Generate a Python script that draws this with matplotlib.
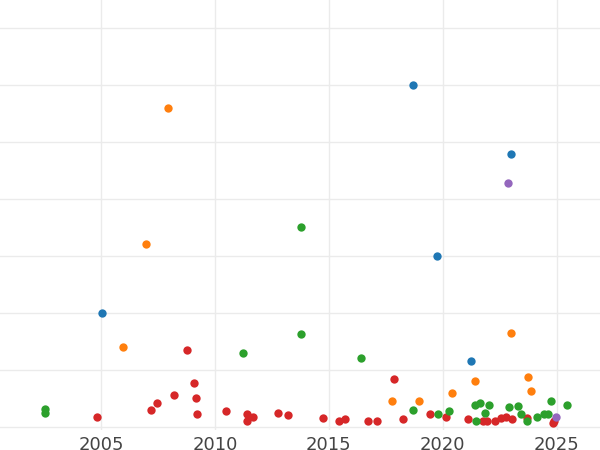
import matplotlib
matplotlib.use('Agg')
import matplotlib.pyplot as plt

blue_x = [2005.04, 2018.68, 2022.98, 2019.74, 2021.23]
blue_y = [2.0, 6.0, 4.79, 3.0, 1.16]
orange_x = [2007.94, 2006.97, 2005.96, 2022.98, 2021.4, 2023.73, 2023.86, 2020.4, 2017.76, 2018.95]
orange_y = [5.60, 3.21, 1.40, 1.65, 0.82, 0.88, 0.63, 0.60, 0.47, 0.47]
purple_x = [2022.85, 2024.96]
purple_y = [4.28, 0.18]
green_x = [2002.54, 2002.54, 2013.77, 2013.77, 2011.23, 2016.4, 2018.68, 2019.78, 2020.26, 2021.4,
           2021.62, 2022.02, 2021.84, 2022.9, 2023.29, 2023.42, 2023.68, 2024.12, 2024.43, 2024.6,
           2024.74, 2025.44, 2021.45]
green_y = [0.33, 0.25, 3.51, 1.63, 1.30, 1.21, 0.30, 0.23, 0.28, 0.40,
           0.42, 0.40, 0.26, 0.35, 0.37, 0.23, 0.11, 0.19, 0.23, 0.23,
           0.46, 0.40, 0.12]
red_x = [2004.82, 2008.77, 2009.08, 2007.46, 2007.19, 2008.2, 2009.17, 2009.21, 2010.48, 2011.4,
         2011.4, 2011.67, 2012.76, 2013.2, 2014.74, 2015.44, 2015.7, 2016.71, 2017.1, 2017.85,
         2018.25, 2019.43, 2020.13, 2021.1, 2021.75, 2021.93, 2022.28, 2022.54, 2022.76, 2023.03,
         2023.68, 2024.87, 2024.82]
red_y = [0.18, 1.35, 0.77, 0.42, 0.30, 0.56, 0.51, 0.23, 0.28, 0.23,
         0.12, 0.18, 0.26, 0.21, 0.16, 0.11, 0.14, 0.12, 0.12, 0.84,
         0.14, 0.23, 0.19, 0.14, 0.11, 0.12, 0.12, 0.16, 0.19, 0.14,
         0.16, 0.11, 0.07]
xticks = [2005, 2010, 2015, 2020, 2025]

fig = plt.figure(figsize=(6, 4.5), dpi=100)
ax = fig.add_axes([0, 0.044, 1, 0.956])
for x, y, c in [(red_x, red_y, '#d62728'), (green_x, green_y, '#2ca02c'),
                (orange_x, orange_y, '#ff7f0e'), (blue_x, blue_y, '#1f77b4'),
                (purple_x, purple_y, '#9467bd')]:
    ax.scatter(x, y, s=36, color=c, zorder=3, linewidths=0)
ax.set_xlim(2000.57, 2026.9)
ax.set_ylim(-0.05, 7.49)
ax.set_xticks(xticks)
ax.set_xticklabels([str(t) for t in xticks])
ax.set_yticks(range(0, 8))
ax.tick_params(axis='y', left=False, labelleft=False)
ax.tick_params(axis='x', length=0, labelsize=13, colors='#444444', pad=4)
ax.grid(True, color='#ebebeb', linewidth=1)
for s in ax.spines.values():
    s.set_visible(False)
fig.savefig('out.png')
